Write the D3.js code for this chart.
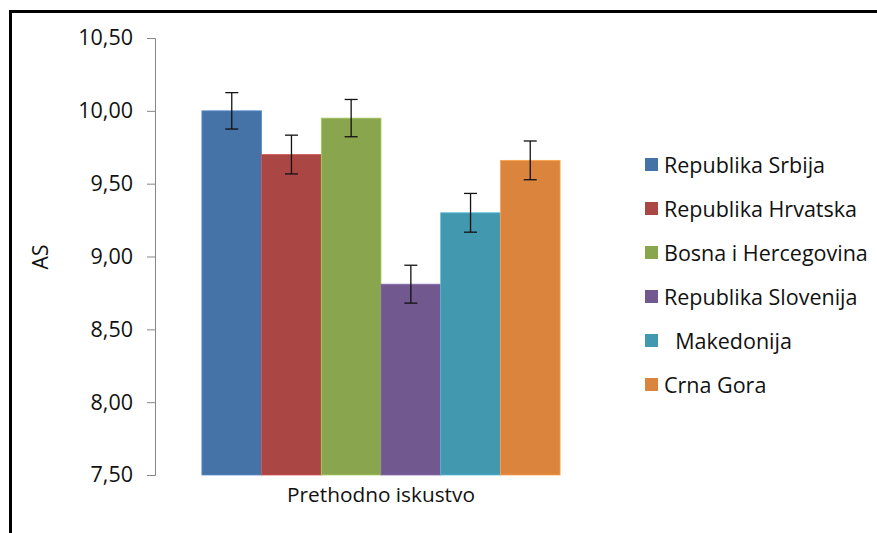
<!DOCTYPE html>
<html>
<head>
<meta charset="utf-8">
<script src="https://cdn.jsdelivr.net/npm/d3@7"></script>
<style>
  body { margin: 0; background: #fff; }
  svg { display: block; font-family: "Open Sans", sans-serif; }
</style>
</head>
<body>
<div id="chart"></div>
<script>
const category = ["Prethodno iskustvo"];
const series = ["Republika Srbija", "Republika Hrvatska", "Bosna i Hercegovina", "Republika Slovenija", "  Makedonija", "Crna Gora"];
const values = [10.00, 9.70, 9.95, 8.81, 9.30, 9.66];
const errors = [0.125, 0.133, 0.128, 0.13, 0.133, 0.133];
const colors = ["#4572A7", "#AA4643", "#89A54E", "#71588F", "#4198AF", "#DB843D"];
const yTicks = [7.5, 8.0, 8.5, 9.0, 9.5, 10.0, 10.5];

const width = 877, height = 533;

const svg = d3.select("#chart")
    .append("svg")
    .attr("width", width)
    .attr("height", height)

// outer frame (right and bottom run off the picture)
svg.append("rect")
    .attr("x", 10.5)
    .attr("y", 11.5)
    .attr("width", 900)
    .attr("height", 600)
    .attr("fill", "none")
    .attr("stroke", "#000")
    .attr("stroke-width", 3)

const y = d3.scaleLinear()
    .domain([7.5, 10.5])
    .range([475, 38])

const x0 = d3.scaleBand()
    .domain(category)
    .range([155, 607])
    .paddingOuter(0.131)

const x1 = d3.scaleBand()
    .domain(series)
    .range([0, x0.bandwidth()])

const yAxis = svg.append("g")
    .attr("transform", "translate(155,0)")
    .call(d3.axisLeft(y)
        .tickValues(yTicks)
        .tickSize(8)
        .tickPadding(14)
        .tickFormat(d => d3.format(".2f")(d).replace(".", ",")))

yAxis.select(".domain").attr("stroke", "#868686")
yAxis.selectAll(".tick line").attr("stroke", "#868686")
yAxis.selectAll(".tick text")
    .attr("fill", "#111")
    .attr("font-size", 21.5)
    .attr("font-family", "Open Sans, sans-serif")

// y title
svg.append("text")
    .attr("transform", "translate(48,257) rotate(-90)")
    .attr("text-anchor", "middle")
    .attr("font-size", 21)
    .attr("fill", "#111")
    .text("AS")

const rows = series.map((s, i) => ({ name: s, value: values[i], err: errors[i], color: colors[i] }))

const group = svg.append("g")
    .attr("transform", `translate(${x0(category[0])},0)`)

group.selectAll("rect")
    .data(rows)
    .enter()
    .append("rect")
    .attr("x", d => x1(d.name))
    .attr("y", d => y(d.value))
    .attr("width", x1.bandwidth())
    .attr("height", d => y(7.5) - y(d.value))
    .attr("fill", d => d.color)
    .attr("stroke", d => d3.color(d.color).brighter(0.6))
    .attr("stroke-width", 0.8)

// error bars
const eb = group.selectAll("g.err")
    .data(rows)
    .enter()
    .append("g")
    .attr("class", "err")
    .attr("stroke", "#111")
    .attr("stroke-width", 1.3)

eb.append("line")
    .attr("x1", d => x1(d.name) + x1.bandwidth() / 2)
    .attr("x2", d => x1(d.name) + x1.bandwidth() / 2)
    .attr("y1", d => y(d.value + d.err))
    .attr("y2", d => y(d.value - d.err))

eb.append("line")
    .attr("x1", d => x1(d.name) + x1.bandwidth() / 2 - 6.5)
    .attr("x2", d => x1(d.name) + x1.bandwidth() / 2 + 6.5)
    .attr("y1", d => y(d.value + d.err))
    .attr("y2", d => y(d.value + d.err))

eb.append("line")
    .attr("x1", d => x1(d.name) + x1.bandwidth() / 2 - 6.5)
    .attr("x2", d => x1(d.name) + x1.bandwidth() / 2 + 6.5)
    .attr("y1", d => y(d.value - d.err))
    .attr("y2", d => y(d.value - d.err))

// category label
svg.append("text")
    .attr("x", x0(category[0]) + x0.bandwidth() / 2)
    .attr("y", 502)
    .attr("text-anchor", "middle")
    .attr("font-size", 20.8)
    .attr("fill", "#111")
    .text(category[0])

// legend
const legend = svg.selectAll("g.legend")
    .data(rows)
    .enter()
    .append("g")
    .attr("class", "legend")
    .attr("transform", (d, i) => `translate(645,${165 + i * 44})`)

legend.append("rect")
    .attr("x", 0)
    .attr("y", -7)
    .attr("width", 13)
    .attr("height", 13)
    .attr("fill", d => d.color)

legend.append("text")
    .attr("x", 19)
    .attr("y", 7.5)
    .attr("font-size", 21.5)
    .attr("fill", "#111")
    .style("white-space", "pre")
    .text(d => d.name)
</script>
</body>
</html>
